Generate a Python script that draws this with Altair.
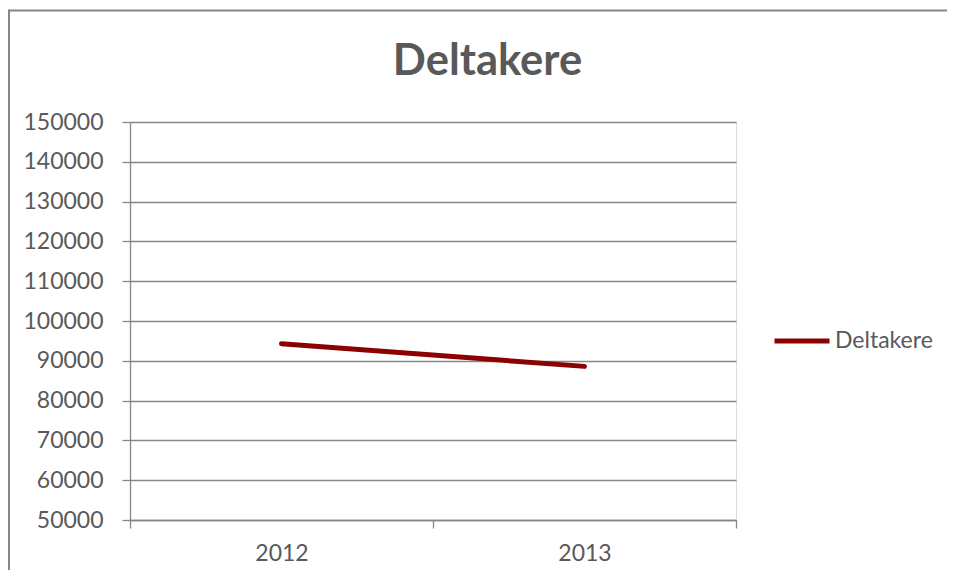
import altair as alt
import pandas as pd

years = ["2012", "2013"]
deltakere = [94300, 88600]
series_name = ["Deltakere", "Deltakere"]
y_ticks = [50000, 60000, 70000, 80000, 90000, 100000, 110000, 120000, 130000, 140000, 150000]
title_text = ["Deltakere"]

df = pd.DataFrame({"year": years, "value": deltakere, "series": series_name})

AX = "#868686"
TXT = "#595959"
FONT = "Lato"
FS = 23

line = alt.Chart(df).mark_line(strokeWidth=5, strokeCap="round").encode(
    x=alt.X("year:O", scale=alt.Scale(type="band", paddingInner=0, paddingOuter=0),
            axis=alt.Axis(title=None, tickBand="extent", labelAngle=0, tickSize=8,
                          labelPadding=14, labelFontSize=FS, labelColor=TXT, labelFont=FONT,
                          domainColor=AX, tickColor=AX, domainWidth=1.3, tickWidth=1.3, grid=False)),
    y=alt.Y("value:Q", scale=alt.Scale(domain=[50000, 150000], nice=False, zero=False),
            axis=alt.Axis(title=None, values=y_ticks, format="d", tickSize=8, labelPadding=19,
                          labelFontSize=FS, labelColor=TXT, labelFont=FONT,
                          domainColor=AX, tickColor=AX, domainWidth=1.3, tickWidth=1.3,
                          grid=True, gridColor=AX, gridWidth=1.3)),
    color=alt.Color("series:N", scale=alt.Scale(range=["#8B0000"]),
                    legend=alt.Legend(title=None, orient="none", legendX=642, legendY=189,
                                      symbolType="stroke", symbolSize=3025, symbolStrokeWidth=5,
                                      labelFontSize=FS, labelColor=TXT, labelFont=FONT,
                                      labelOffset=3)),
)

one = pd.DataFrame({"f": [1]})
frame_top = alt.Chart(one).mark_rule(stroke=AX, strokeWidth=2).encode(
    x=alt.value(-121), x2=alt.value(830), y=alt.value(-111.5)
)
frame_left = alt.Chart(one).mark_rule(stroke=AX, strokeWidth=2).encode(
    x=alt.value(-121), y=alt.value(-112.5), y2=alt.value(470)
)

title = alt.Chart(pd.DataFrame({"t": title_text})).mark_text(
    font=FONT, fontSize=43.5, fontWeight="bold", color=TXT, align="center", baseline="alphabetic"
).encode(text="t:N", x=alt.value(357.5), y=alt.value(-47))

chart = alt.layer(frame_top, frame_left, title, line).properties(
    width=606, height=398,
    autosize=alt.AutoSizeParams(type="none"),
    padding={"left": 122, "top": 114, "right": 211, "bottom": 50},
).configure_view(stroke=None).configure(background="white")

chart.save("out.html", embed_options={"renderer": "svg", "actions": False})
